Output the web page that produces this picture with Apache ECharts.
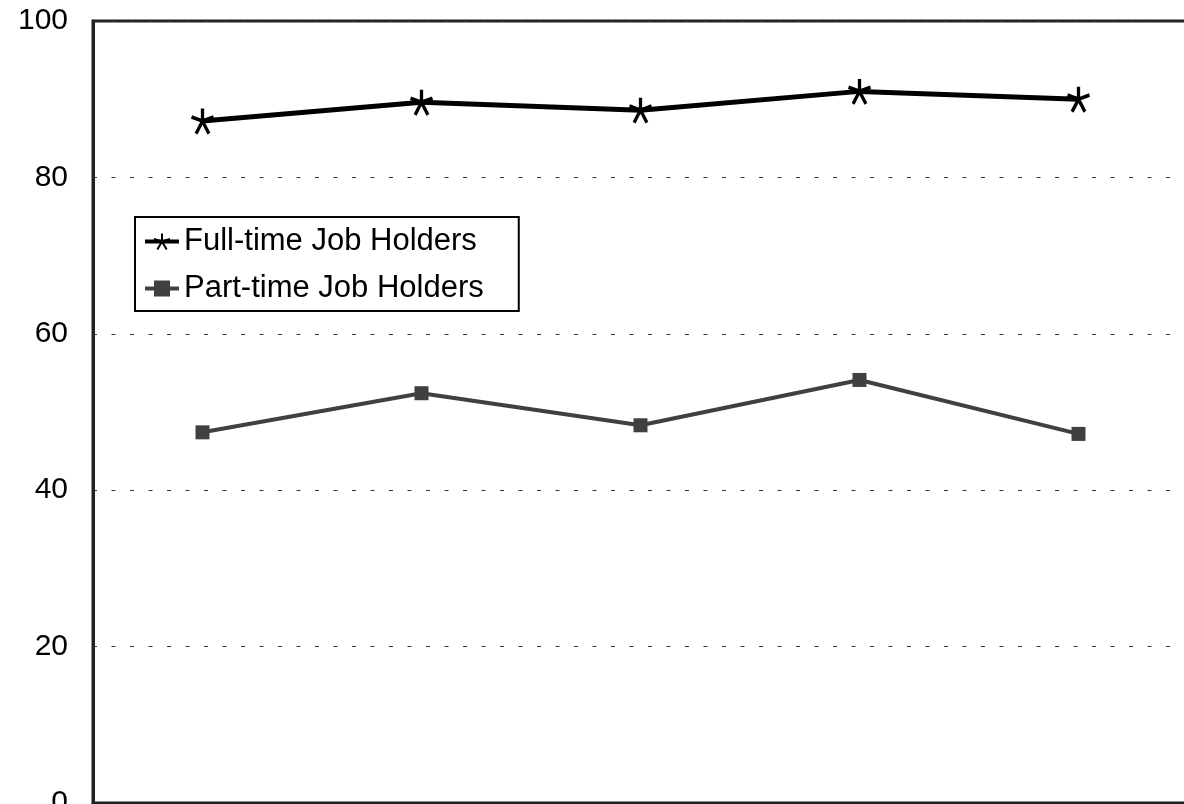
<!DOCTYPE html>
<html>
<head>
<meta charset="utf-8">
<script src="https://cdn.jsdelivr.net/npm/echarts@6/dist/echarts.min.js"></script>
<style>
  html, body { margin: 0; padding: 0; background: #fff; }
  #main { width: 1184px; height: 804px; }
</style>
</head>
<body>
<div id="main"></div>
<script>
// values (percent)
const categories = ['1', '2', '3', '4', '5']
const fullTime = [87.2, 89.6, 88.6, 91.0, 90.0]
const partTime = [47.4, 52.4, 48.3, 54.1, 47.2]
const yTicks = [0, 20, 40, 60, 80, 100]

// five-armed asterisk, drawn as strokes
const asterisk = 'path://M12,0 L12,12 M0,8 L12,12 M24,8 L12,12 M5,24 L12,12 M19,24 L12,12'

const chart = echarts.init(document.getElementById('main'))

const option = {
  animation: false,
  textStyle: { fontFamily: 'Liberation Sans, Arial, sans-serif' },
  grid: {
    left: 93,
    right: -4,
    top: 21,
    bottom: 1,
    outerBoundsMode: 'none',
    show: true,
    borderColor: '#222',
    borderWidth: 3
  },
  legend: {
    orient: 'vertical',
    left: 135,
    top: 217,
    padding: [9, 35, 7, 8],
    itemGap: 16,
    itemWidth: 34,
    itemHeight: 20,
    borderColor: '#000',
    borderWidth: 2,
    backgroundColor: '#fff',
    lineStyle: { width: 4 },
    textStyle: { fontSize: 31, color: '#000' },
    data: ['Full-time Job Holders', 'Part-time Job Holders']
  },
  xAxis: {
    type: 'category',
    data: categories,
    boundaryGap: true,
    axisLine: { show: true, lineStyle: { color: '#222', width: 3 } },
    axisTick: { show: false },
    axisLabel: { show: false }
  },
  yAxis: {
    type: 'value',
    min: yTicks[0],
    max: yTicks[yTicks.length - 1],
    interval: 20,
    axisLine: { show: true, lineStyle: { color: '#222', width: 3 } },
    axisTick: { show: false },
    axisLabel: { fontSize: 30, color: '#000', margin: 25 },
    splitLine: {
      show: true,
      lineStyle: { color: '#333', width: 1, type: [4, 14.5] }
    }
  },
  series: [
    {
      name: 'Full-time Job Holders',
      type: 'line',
      data: fullTime,
      symbol: asterisk,
      symbolSize: [22, 25],
      lineStyle: { color: '#000', width: 5 },
      itemStyle: { color: '#000', borderColor: '#000', borderWidth: 3.5 },
      z: 3
    },
    {
      name: 'Part-time Job Holders',
      type: 'line',
      data: partTime,
      symbol: 'rect',
      symbolSize: 14,
      lineStyle: { color: '#404040', width: 4 },
      itemStyle: { color: '#404040', borderWidth: 0 },
      z: 2
    }
  ]
}

chart.setOption(option)
</script>
</body>
</html>
